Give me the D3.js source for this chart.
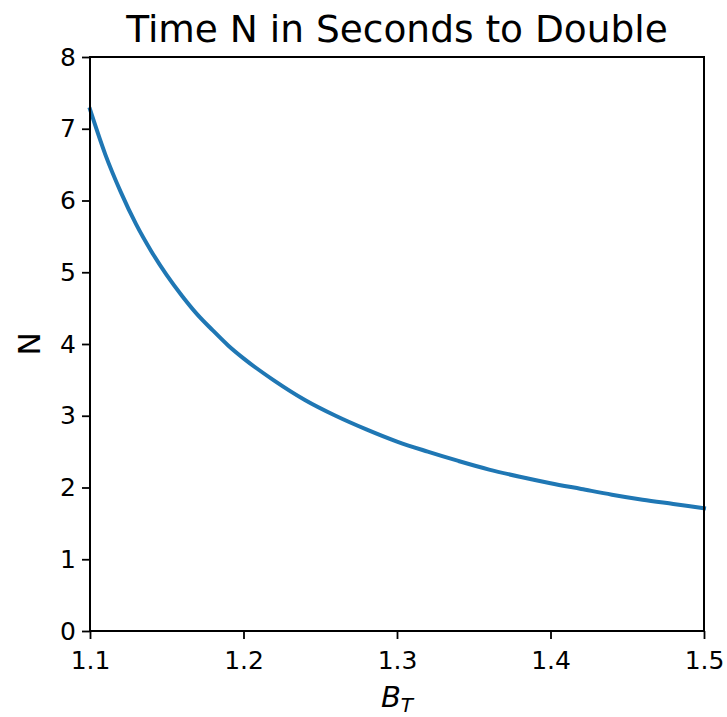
<!DOCTYPE html>
<html>
<head>
<meta charset="utf-8">
<script src="https://cdn.jsdelivr.net/npm/d3@7"></script>
<style>
  html, body { margin: 0; padding: 0; background: #fff; }
  svg { display: block; font-family: "DejaVu Sans", sans-serif; }
</style>
</head>
<body>
<script>
// Base B_T values and the time N (seconds) needed to double
const bValues = [1.10, 1.11, 1.12, 1.13, 1.14, 1.15, 1.16, 1.17, 1.18, 1.19, 1.20,
                 1.22, 1.24, 1.26, 1.28, 1.30, 1.32, 1.34, 1.36, 1.38, 1.40,
                 1.42, 1.44, 1.46, 1.48, 1.50];
const nValues = [7.27, 6.64, 6.12, 5.67, 5.29, 4.96, 4.67, 4.41, 4.19, 3.98, 3.80,
                 3.49, 3.22, 3.00, 2.81, 2.64, 2.50, 2.37, 2.25, 2.15, 2.06,
                 1.98, 1.90, 1.83, 1.77, 1.71];
const xTicks = [1.1, 1.2, 1.3, 1.4, 1.5];
const yTicks = [0, 1, 2, 3, 4, 5, 6, 7, 8];
const titleText = "Time N in Seconds to Double";

const W = 727, H = 717;
const plotL = 90, plotR = 704, plotT = 57, plotB = 631;

const svg = d3.select("body").append("svg").attr("width", W).attr("height", H);

const x = d3.scaleLinear().domain([1.1, 1.5]).range([plotL, plotR]);
const y = d3.scaleLinear().domain([0, 8]).range([plotB, plotT]);

const points = bValues.map((b, i) => [b, nValues[i]]);

// curve
svg.append("path")
  .datum(points)
  .attr("fill", "none")
  .attr("stroke", "#1f77b4")
  .attr("stroke-width", 4)
  .attr("stroke-linecap", "square")
  .attr("d", d3.line().x(d => x(d[0])).y(d => y(d[1])).curve(d3.curveMonotoneX));

// axes
const xAxis = svg.append("g")
  .attr("transform", `translate(0,${plotB})`)
  .call(d3.axisBottom(x).tickValues(xTicks).tickFormat(d3.format(".1f")).tickSizeOuter(0).tickSize(8).tickPadding(6));
const yAxis = svg.append("g")
  .attr("transform", `translate(${plotL},0)`)
  .call(d3.axisLeft(y).tickValues(yTicks).tickFormat(d3.format("d")).tickSizeOuter(0).tickSize(8).tickPadding(6));

[xAxis, yAxis].forEach(g => {
  g.select(".domain").remove();
  g.selectAll(".tick line").attr("stroke", "#000").attr("stroke-width", 1.8);
  g.selectAll(".tick text")
    .attr("fill", "#000")
    .style("font-family", "'DejaVu Sans', sans-serif")
    .style("font-size", "25px");
});
xAxis.selectAll(".tick text").attr("dy", "0.95em");

// frame
svg.append("rect")
  .attr("x", plotL).attr("y", plotT)
  .attr("width", plotR - plotL).attr("height", plotB - plotT)
  .attr("fill", "none").attr("stroke", "#000").attr("stroke-width", 2);

// title
svg.append("text")
  .attr("x", (plotL + plotR) / 2).attr("y", 42)
  .attr("text-anchor", "middle")
  .style("font-size", "37.5px")
  .text(titleText);

// y label
svg.append("text")
  .attr("transform", `translate(40,${(plotT + plotB) / 2}) rotate(-90)`)
  .attr("text-anchor", "middle")
  .style("font-size", "31px")
  .text("N");

// x label: B with subscript T
const xl = svg.append("text")
  .attr("x", (plotL + plotR) / 2).attr("y", 707)
  .attr("text-anchor", "middle")
  .style("font-size", "29px")
  .style("font-style", "italic");
xl.append("tspan").text("B");
xl.append("tspan").attr("dy", 5).style("font-size", "20px").text("T");
</script>
</body>
</html>
